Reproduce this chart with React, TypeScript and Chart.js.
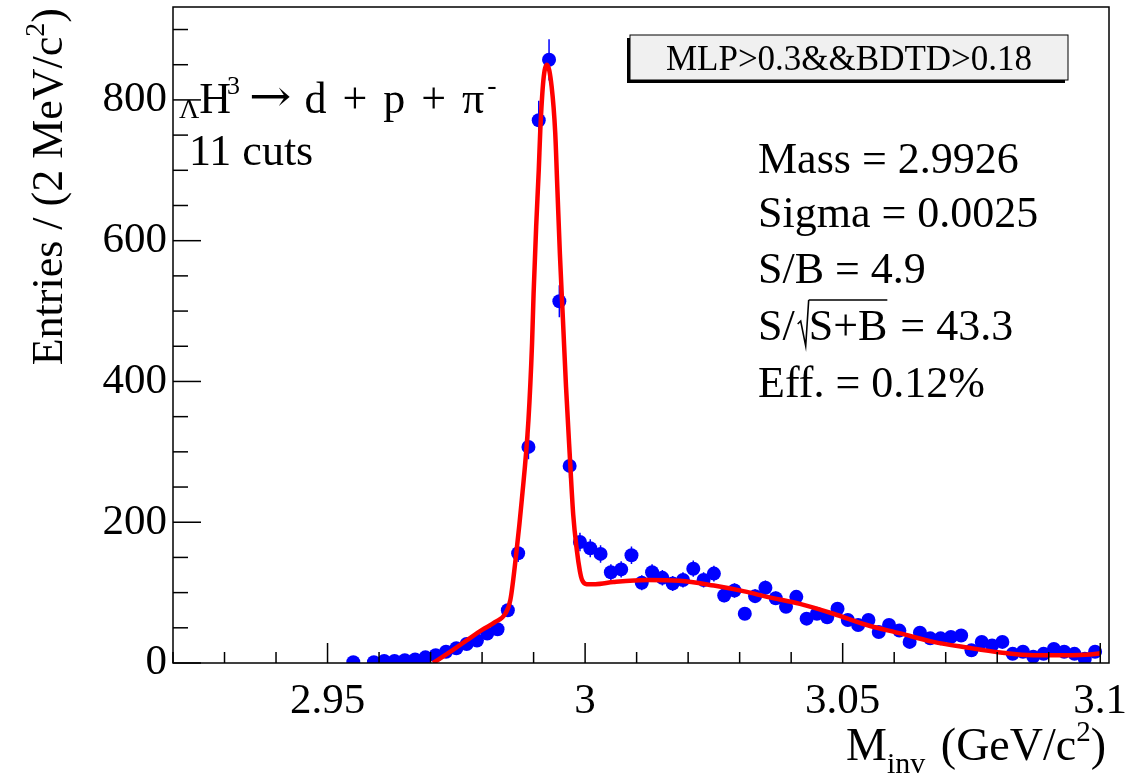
import React, { useEffect, useRef } from "react";
import { Chart, registerables } from "chart.js";

Chart.register(...registerables);

// ---- data ----
const massBins = [
  2.955, 2.959, 2.961, 2.963, 2.965, 2.967, 2.969, 2.971, 2.973, 2.975, 2.977, 2.979,
  2.981, 2.983, 2.985, 2.987, 2.989, 2.991, 2.993, 2.995, 2.997, 2.999, 3.001, 3.003,
  3.005, 3.007, 3.009, 3.011, 3.013, 3.015, 3.017, 3.019, 3.021, 3.023, 3.025, 3.027,
  3.029, 3.031, 3.033, 3.035, 3.037, 3.039, 3.041, 3.043, 3.045, 3.047, 3.049, 3.051,
  3.053, 3.055, 3.057, 3.059, 3.061, 3.063, 3.065, 3.067, 3.069, 3.071, 3.073, 3.075,
  3.077, 3.079, 3.081, 3.083, 3.085, 3.087, 3.089, 3.091, 3.093, 3.095, 3.097, 3.099,
];
const entries = [
  1, 1, 3, 3, 4, 5, 8, 11, 16, 21, 27, 32,
  42, 48, 75, 156, 307, 771, 857, 514, 280, 172, 163, 155,
  129, 133, 153, 114, 129, 121, 113, 118, 134, 118, 127, 96,
  103, 70, 95, 107, 92, 80, 94, 63, 70, 65, 77, 61,
  54, 61, 44, 54, 46, 30, 43, 35, 35, 37, 39, 18,
  30, 25, 30, 13, 16, 9, 13, 20, 16, 13, 6, 16,
];

const fitX = [
  2.9705, 2.974, 2.977, 2.98, 2.9825, 2.9845, 2.9855, 2.9867, 2.9877, 2.989, 2.9897,
  2.99, 2.9905, 2.991, 2.9913, 2.9919, 2.9926, 2.9935, 2.9942, 2.9946, 2.9951, 2.9957,
  2.9963, 2.997, 2.9977, 2.9984, 2.999, 2.9994, 3.0003, 3.002, 3.0055, 3.012, 3.0184,
  3.025, 3.0314, 3.0353, 3.0417, 3.0482, 3.0547, 3.0612, 3.0676, 3.0741, 3.0806, 3.087,
  3.093, 3.098, 3.1,
];
const fitY = [
  0, 17, 32, 47, 58, 70, 90, 160, 231, 345, 454,
  525, 620, 700, 757, 828, 850, 819, 753, 677, 582, 487,
  392, 298, 210, 160, 130, 118, 112, 112, 115, 118, 117,
  110, 101, 94, 84, 70, 54, 42, 30, 22, 15, 11,
  11, 12, 14,
];

const xMajorTicks = [2.95, 3, 3.05, 3.1];
const xTickLabels = ["2.95", "3", "3.05", "3.1"];
const yMajorTicks = [0, 200, 400, 600, 800];
const yTickLabels = ["0", "200", "400", "600", "800"];

const cutLabel = "MLP>0.3&&BDTD>0.18";
const reactionTokens = ["d", "+", "p", "+", "\u03C0"];
const statLines = ["Mass = 2.9926", "Sigma = 0.0025", "S/B = 4.9", "S/\u221AS+B = 43.3", "Eff. = 0.12%"];

const SERIF = '"Liberation Serif", "DejaVu Serif", serif';

function f(size: number, fam: string = SERIF) {
  return `${size}px ${fam}`;
}

const rootPlugin = {
  id: "rootStyle",
  beforeDatasetsDraw(chart: any) {
    const ctx = chart.ctx;
    const xs = chart.scales.x;
    const ys = chart.scales.y;
    const area = chart.chartArea;
    ctx.save();
    ctx.beginPath();
    ctx.rect(area.left, area.top, area.right - area.left, area.bottom - area.top);
    ctx.clip();
    ctx.strokeStyle = "#0000ff";
    ctx.lineWidth = 1.5;
    for (let i = 0; i < massBins.length; i++) {
      const v = entries[i];
      const e = Math.sqrt(v);
      const px = xs.getPixelForValue(massBins[i]);
      ctx.beginPath();
      ctx.moveTo(px, ys.getPixelForValue(Math.max(0, v - e)));
      ctx.lineTo(px, ys.getPixelForValue(v + e));
      ctx.moveTo(xs.getPixelForValue(massBins[i] - 0.001), ys.getPixelForValue(v));
      ctx.lineTo(xs.getPixelForValue(massBins[i] + 0.001), ys.getPixelForValue(v));
      ctx.stroke();
    }
    ctx.restore();
  },
  afterDraw(chart: any) {
    const ctx = chart.ctx;
    const xs = chart.scales.x;
    const ys = chart.scales.y;
    const a = chart.chartArea;
    ctx.save();
    // frame
    ctx.strokeStyle = "#000";
    ctx.lineWidth = 1.5;
    ctx.strokeRect(a.left, a.top, a.right - a.left, a.bottom - a.top);
    // x ticks
    for (let i = 292; i <= 310; i++) {
      const px = xs.getPixelForValue(i / 100);
      const len = i % 5 === 0 ? 20 : 11;
      ctx.beginPath();
      ctx.moveTo(px, a.bottom);
      ctx.lineTo(px, a.bottom - len);
      ctx.stroke();
    }
    // y ticks
    for (let v = 0; v <= 900; v += 50) {
      const py = ys.getPixelForValue(v);
      const len = v % 200 === 0 ? 28 : 15;
      ctx.beginPath();
      ctx.moveTo(a.left, py);
      ctx.lineTo(a.left + len, py);
      ctx.stroke();
    }

    ctx.fillStyle = "#000";
    ctx.textBaseline = "alphabetic";
    ctx.textAlign = "left";

    // reaction label
    let x = 179;
    ctx.font = f(28);
    ctx.fillText("\u039B", x, 118);
    x += ctx.measureText("\u039B").width;
    ctx.font = f(44);
    ctx.fillText("H", x, 113);
    x += ctx.measureText("H").width - 4;
    ctx.font = f(26);
    ctx.fillText("3", x, 94);
    x += ctx.measureText("3").width + 9;
    ctx.font = f(44, '"DejaVu Serif", serif');
    ctx.save();
    ctx.translate(x, 0);
    ctx.scale(1.15, 1);
    ctx.fillText("\u2192", 0, 111);
    ctx.restore();
    x += ctx.measureText("\u2192").width * 1.15 + 13;
    ctx.font = f(44);
    for (let k = 0; k < reactionTokens.length; k++) {
      ctx.fillText(reactionTokens[k], x, 113);
      x += ctx.measureText(reactionTokens[k]).width + (k < reactionTokens.length - 1 ? 16 : 3);
    }
    ctx.font = f(28);
    ctx.fillText("-", x, 94);

    ctx.font = f(44);
    ctx.fillText("11 cuts", 189, 165);

    // stats
    const baselines = [173, 227, 283, 340, 397];
    const sx = 758;
    for (let i = 0; i < statLines.length; i++) {
      const s = statLines[i];
      ctx.font = f(44);
      if (s.indexOf("\u221A") >= 0) {
        const [pre, rest] = s.split("\u221A");
        const under = "S+B";
        const post = rest.slice(under.length);
        let cx = sx;
        ctx.fillText(pre, cx, baselines[i]);
        cx += ctx.measureText(pre).width + 3;
        // radical sign
        ctx.lineWidth = 1.6;
        ctx.beginPath();
        ctx.moveTo(cx, baselines[i] - 16);
        ctx.lineTo(cx + 3, baselines[i] - 19);
        ctx.lineTo(cx + 8, baselines[i] + 6);
        ctx.lineTo(cx + 11, baselines[i] - 40);
        ctx.stroke();
        cx += 11;
        const uw = ctx.measureText(under).width;
        ctx.beginPath();
        ctx.moveTo(cx, baselines[i] - 40);
        ctx.lineTo(cx + uw, baselines[i] - 40);
        ctx.stroke();
        ctx.fillText(under, cx, baselines[i]);
        cx += uw + 2;
        ctx.fillText(post, cx, baselines[i]);
      } else {
        ctx.fillText(s, sx, baselines[i]);
      }
    }

    // cut box
    const bx = 630, by = 35, bw = 438, bh = 45;
    ctx.fillStyle = "#000";
    ctx.fillRect(bx - 3, by + 3, bw, bh);
    ctx.fillStyle = "#f0f0f0";
    ctx.fillRect(bx, by, bw, bh);
    ctx.lineWidth = 1;
    ctx.strokeStyle = "#000";
    ctx.strokeRect(bx, by, bw, bh);
    ctx.fillStyle = "#000";
    ctx.font = f(35);
    ctx.textAlign = "center";
    ctx.fillText(cutLabel, bx + bw / 2, by + bh / 2 + 12);
    ctx.textAlign = "left";

    // x title: M_inv (GeV/c^2)
    const xParts: [string, number, number][] = [
      ["M", 46, 0],
      ["inv", 30, 13],
      [" (GeV/c", 46, 0],
      ["2", 29, -19],
      [")", 46, 0],
    ];
    let tw = 0;
    for (const [t, sz] of xParts) {
      ctx.font = f(sz);
      tw += ctx.measureText(t).width;
    }
    let tx = 1106 - tw - 4;
    for (const [t, sz, dy] of xParts) {
      ctx.font = f(sz);
      ctx.fillText(t, tx, 760 + dy);
      tx += ctx.measureText(t).width;
      if (t === "inv") tx += 4;
    }

    // y title: Entries / (2 MeV/c^2)
    const yParts: [string, number, number][] = [
      ["Entries / (2 MeV/c", 44, 0],
      ["2", 28, -18],
      [")", 44, 0],
    ];
    let yw = 0;
    for (const [t, sz] of yParts) {
      ctx.font = f(sz);
      yw += ctx.measureText(t).width;
    }
    ctx.translate(62, 8);
    ctx.rotate(-Math.PI / 2);
    let ty = -yw;
    for (const [t, sz, dy] of yParts) {
      ctx.font = f(sz);
      ctx.fillText(t, ty, dy);
      ty += ctx.measureText(t).width;
    }
    ctx.restore();
  },
};

export default function App() {
  const ref = useRef<HTMLCanvasElement | null>(null);
  useEffect(() => {
    if (!ref.current) return;
    const points = massBins.map((m, i) => ({ x: m, y: entries[i] }));
    const curve = fitX.map((m, i) => ({ x: m, y: fitY[i] }));
    const chart = new Chart(ref.current, {
      type: "scatter",
      data: {
        datasets: [
          {
            type: "line",
            label: "fit",
            data: curve,
            borderColor: "#ff0000",
            borderWidth: 4.5,
            pointRadius: 0,
            fill: false,
            cubicInterpolationMode: "monotone",
            order: 0,
          } as any,
          {
            label: "data",
            data: points,
            pointRadius: 7,
            pointBackgroundColor: "#0000ff",
            pointBorderWidth: 0,
            pointBorderColor: "#0000ff",
            order: 1,
          },
        ],
      },
      options: {
        animation: false,
        responsive: false,
        events: [],
        layout: { padding: { top: 7, right: 36, left: 0, bottom: 0 } },
        plugins: { legend: { display: false }, tooltip: { enabled: false } },
        scales: {
          x: {
            type: "linear",
            min: 2.92,
            max: 3.1017,
            grid: { display: false, drawTicks: false },
            border: { display: false },
            afterBuildTicks: (s: any) => {
              s.ticks = xMajorTicks.map((v) => ({ value: v }));
            },
            afterFit: (s: any) => {
              s.height = 114;
              s.paddingLeft = 0;
              s.paddingRight = 0;
            },
            ticks: {
              padding: 13,
              color: "#000",
              font: { family: "Liberation Serif", size: 43 },
              maxRotation: 0,
              autoSkip: false,
              callback: (v: any) => {
                const i = xMajorTicks.findIndex((t) => Math.abs(t - v) < 1e-9);
                return i >= 0 ? xTickLabels[i] : "";
              },
            },
          },
          y: {
            type: "linear",
            min: 0,
            max: 932,
            grid: { display: false, drawTicks: false },
            border: { display: false },
            afterBuildTicks: (s: any) => {
              s.ticks = yMajorTicks.map((v) => ({ value: v }));
            },
            afterFit: (s: any) => {
              s.width = 173;
              s.paddingTop = 0;
              s.paddingBottom = 0;
            },
            ticks: {
              padding: 6,
              color: "#000",
              font: { family: "Liberation Serif", size: 43 },
              autoSkip: false,
              callback: (v: any) => {
                const i = yMajorTicks.findIndex((t) => t === v);
                return i >= 0 ? yTickLabels[i] : "";
              },
            },
          },
        },
      },
      plugins: [rootPlugin],
    });
    return () => chart.destroy();
  }, []);
  return (
    <div style={{ position: "absolute", left: 0, top: 0, width: 1145, height: 777, background: "#fff" }}>
      <canvas ref={ref} width={1145} height={777} style={{ width: 1145, height: 777 }} />
    </div>
  );
}
